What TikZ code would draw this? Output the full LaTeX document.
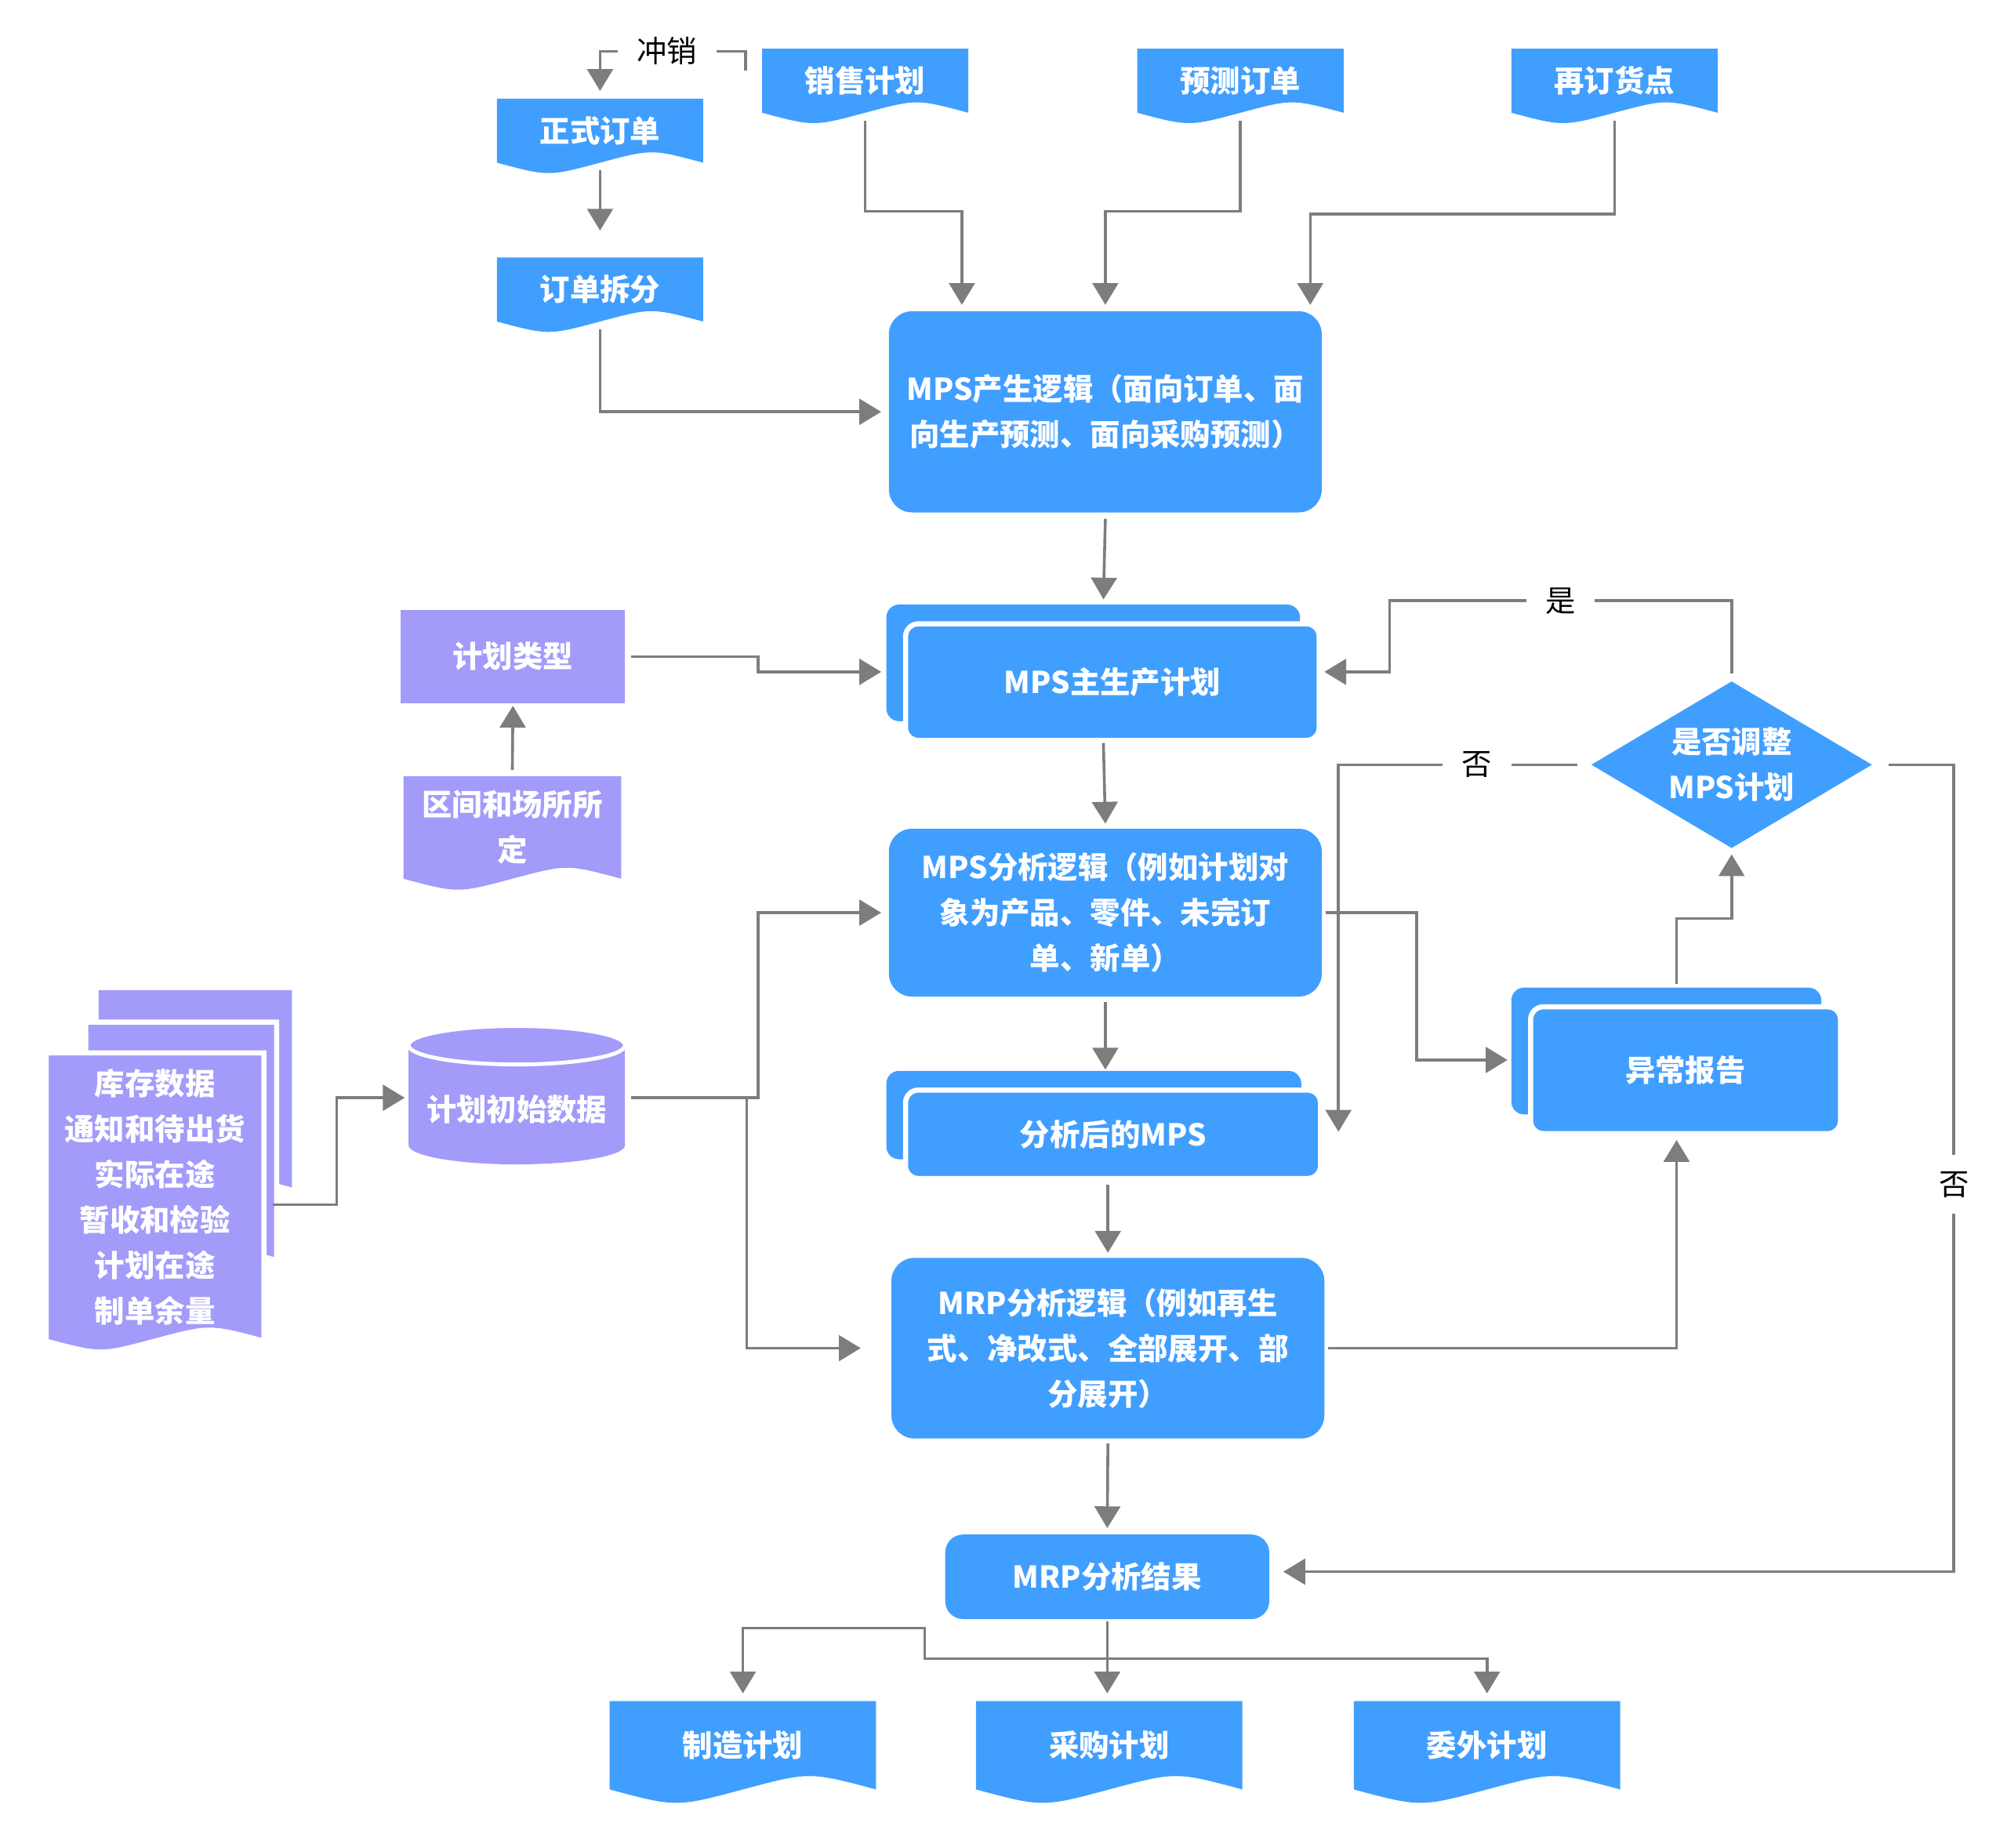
\documentclass[tikz,border=0pt]{standalone}
\usepackage{fontspec}
\setmainfont{Noto Sans CJK SC}
\usepackage{tikz}
\usetikzlibrary{arrows.meta,calc,shapes.geometric}
\definecolor{planblue}{RGB}{64,158,255}
\definecolor{planviolet}{RGB}{162,155,250}
\definecolor{linkgray}{RGB}{125,125,125}
\tikzset{
  linktip/.tip={Triangle[length=8.5pt,width=10pt]},
  boxsize/.style 2 args={minimum width={(#1)*0.5pt}, minimum height={(#2)*0.5pt}},
  boxtxt/.style={text=white, font=\fontsize{11.75}{17.75}\selectfont\bfseries, align=center, inner sep=0pt, outer sep=0pt},
  blockbox/.style={boxtxt, fill=planblue, rounded corners=9pt},   % rounded process box
  plainbox/.style={boxtxt, fill=planviolet},                      % square violet box
  stackback/.style={fill=planblue, rounded corners=5pt},          % hidden sheet of a stack
  stackfront/.style={boxtxt, fill=planblue, draw=white, line width=2pt, rounded corners=5pt},
  decision/.style={boxtxt, diamond, fill=planblue, aspect=1.68, minimum width=109.5pt, minimum height=65pt},
  link/.style={-linktip, draw=linkgray, line width=1.1pt},
  lbl/.style={fill=white, text=black, font=\fontsize{11.75}{14}\selectfont, inner xsep=7.5pt, inner ysep=6.5pt}
}
\newcommand{\DocShape}[5]{% #1=style, #2=left, #3=top, #4=right, #5=edge of the wave
  \pgfmathsetmacro{\dw}{#4-#2}%
  \pgfmathsetmacro{\da}{0.067*\dw}%
  \path[#1] (#2,#3) -- (#4,#3) -- (#4,#5)
    .. controls ({#2+0.75*\dw},{#5-\da}) .. ({#2+0.5*\dw},#5)
    .. controls ({#2+0.25*\dw},{#5+\da}) .. (#2,#5) -- cycle;%
}
\newcommand{\DocNode}[7]{% #1=colour, #2=name, #3..#6=box, #7=text
  \DocShape{fill=#1}{#3}{#4}{#5}{#6}%
  \node[boxtxt, boxsize={#5-#3}{#6-#4}] (#2) at ({(#3+#5)/2},{(#4+#6)/2}) {#7};%
}
\newcommand{\StackNode}[6]{% #1=name, #2..#5=front sheet, #6=text
  \path[stackback] ({#2-15},{#3-15}) rectangle ({#4-15},{#5-15});%
  \node[stackfront, boxsize={#4-#2}{#5-#3}] (#1) at ({(#2+#4)/2},{(#3+#5)/2}) {#6};%
}
\begin{document}
\begin{tikzpicture}[x=0.5pt, y=-0.5pt]
  \useasboundingbox (0,0) rectangle (1567,1442.7);
  % inputs at the top
  \DocNode{planblue}{order}{388}{77}{549}{127}{正式订单}
  \DocNode{planblue}{split}{388}{201}{549}{251}{订单拆分}
  \DocNode{planblue}{sale}{595}{38}{756}{88}{销售计划}
  \DocNode{planblue}{fcst}{888}{38}{1049}{88}{预测订单}
  \DocNode{planblue}{reord}{1180}{38}{1341}{88}{再订货点}
  \node[blockbox, boxsize={338}{157}] (gen) at (863,321.5) {MPS产生逻辑（面向订单、面\\向生产预测、面向采购预测）};
  % left column
  \node[plainbox, boxsize={175}{73}] (ptype) at (400.5,512.5) {计划类型};
  \DocNode{planviolet}{zone}{315}{606}{485}{686}{区间和场所所\\定}
  \DocShape{fill=planviolet}{77}{773}{228}{927}
  \DocShape{fill=planviolet, draw=white, line width=2pt}{67}{798}{216}{984}
  \DocShape{fill=planviolet, draw=white, line width=2pt}{36}{822}{206}{1047}
  \node[boxtxt, boxsize={170}{225}] (stock) at (121,934.5) {库存数据\\通知和待出货\\实际在途\\暂收和检验\\计划在途\\制单余量};
  \fill[planviolet] (319,816) rectangle (488,894);
  \fill[planviolet] (403.5,894) ellipse [x radius=84.5, y radius=15];
  \filldraw[fill=planviolet, draw=white, line width=1.5pt] (403.5,816) ellipse [x radius=84.5, y radius=15];
  \node[boxtxt, boxsize={169}{86}] (init) at (403.5,866) {计划初始数据};
  % main column
  \StackNode{mps}{707}{487}{1030}{578}{MPS主生产计划}
  \node[blockbox, boxsize={338}{131}] (anal) at (863,712.5) {MPS分析逻辑（例如计划对\\象为产品、零件、未完订\\单、新单）};
  \StackNode{after}{707}{851}{1031}{920}{分析后的MPS}
  \node[blockbox, boxsize={338}{141}] (mrp) at (865,1052.5) {MRP分析逻辑（例如再生\\式、净改式、全部展开、部\\分展开）};
  \node[blockbox, rounded corners=7pt, boxsize={253}{66}] (result) at (864.5,1231) {MRP分析结果};
  % right column
  \StackNode{exc}{1195}{786}{1437}{885}{异常报告}
  \node[decision] (adjust) at (1352,597) {是否调整\\MPS计划};
  % outputs
  \DocNode{planblue}{mfg}{476}{1328}{684}{1397}{制造计划}
  \DocNode{planblue}{pur}{762}{1328}{970}{1397}{采购计划}
  \DocNode{planblue}{out}{1057}{1328}{1265}{1397}{委外计划}

  % connectors
  \coordinate (offset) at ($(sale.west)+(-13,-8)$);
  \draw[link] (offset) |- node[lbl, pos=0.77] {冲销} ($(order.north)+(0,-37)$) -- ($(order.north)+(0,-6)$);
  \draw[link] ($(order.south)+(0,6)$) -- ($(split.north)+(0,-21)$);
  \draw[link] ($(split.south)+(0,6)$) |- ($(gen.west)+(-6,0)$);
  \draw[link] ($(sale.south)+(0,6)$) -- ($(sale.south)+(0,77)$) -| ($(gen.north west)+(57,-5)$);
  \draw[link] ($(fcst.south)+(0,6)$) -- ($(fcst.south)+(0,77)$) -| ($(gen.north)+(0,-5)$);
  \draw[link] ($(reord.south)+(0,6)$) -- ($(reord.south)+(0,79)$) -| ($(gen.north east)+(-9,-5)$);
  \draw[link] ($(gen.south)+(0,5)$) -- ($(mps.north)+(-7,-19)$);
  \draw[link] ($(zone.north)+(0,-5)$) -- ($(ptype.south)+(0,2)$);
  \draw[link] ($(ptype.east)+(5,0)$) -- ++(99,0) |- ($(mps.west)+(-19,-8)$);
  \draw[link] ($(mps.south)+(-7,2)$) -- ($(anal.north)+(0,-4)$);
  \draw[link] ($(stock.east)+(7,6)$) -- ++(50,0) |- ($(init.west)+(-3,-9)$);
  \draw[link] ($(init.east)+(5,-9)$) -- ++(99,0) |- ($(anal.west)+(-6,0)$);
  \draw[link] ($(init.east)+(95,-9)$) |- ($(mrp.west)+(-24,0)$);
  \draw[link] ($(anal.south)+(0,4)$) -- ($(after.north)+(-6,-16)$);
  \draw[link] ($(after.south)+(-4,5)$) -- ($(mrp.north)+(0,-4)$);
  \draw[link] ($(mrp.south)+(0,4)$) -- ($(result.north)+(0,-5)$);
  \draw[link] ($(anal.east)+(3,0)$) -- ++(71,0) |- ($(exc.west)+(-18,-8)$);
  \draw[link] ($(mrp.east)+(3,0)$) -| ($(exc.south)+(-7,5)$);
  \draw[link] ($(exc.north)+(-7,-18)$) -- ++(0,-51) -| ($(adjust.south)+(0,5)$);
  \draw[link] ($(adjust.north)+(0,-6)$) -- ++(0,-57) -- node[lbl] {是} ++(-267,0) |- ($(mps.east)+(4,-8)$);
  \draw[link] ($(adjust.west)+(-11,0)$) -| node[lbl, pos=0.21] {否} ($(after.east)+(14,-2)$);
  \draw[link] ($(adjust.east)+(13,0)$) -- ++(51,0) |- node[lbl, pos=0.26] {否} ($(result.east)+(11,-4)$);
  \draw[link] ($(result.south)+(0,2)$) -- ($(pur.north)+(-1.5,-6)$);
  \coordinate (fork) at ($(result.south west)+(-16,7)$);
  \draw[linktip-linktip, draw=linkgray, line width=1.1pt] ($(mfg.north)+(0,-6)$) |- (fork) -- ++(0,24) -| ($(out.north)+(0,-6)$);
\end{tikzpicture}
\end{document}
